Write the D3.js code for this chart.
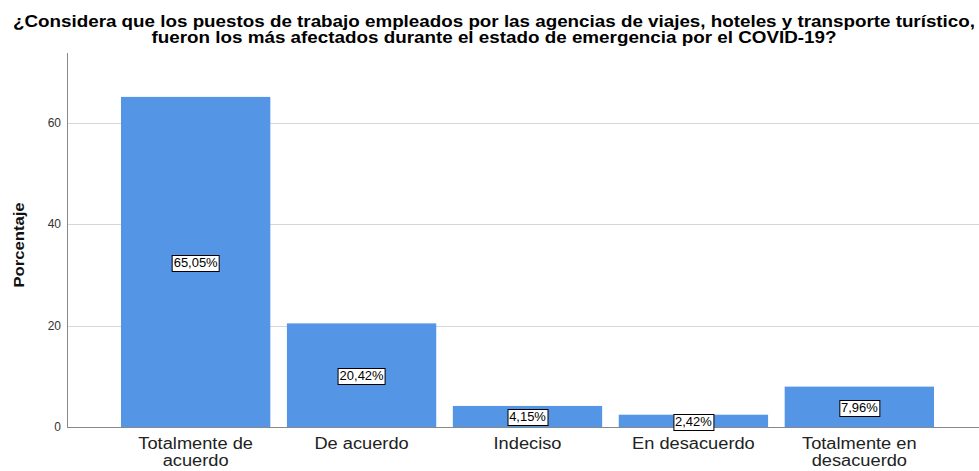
<!DOCTYPE html>
<html>
<head>
<meta charset="utf-8">
<script src="https://cdn.jsdelivr.net/npm/d3@7"></script>
<style>
  body { margin: 0; background: #fff; }
  svg { display: block; font-family: Arial, "Liberation Sans", sans-serif; }
</style>
</head>
<body>
<svg id="chart" width="979" height="471"></svg>
<script>
// ---- Data ----
const categories = [["Totalmente de", "acuerdo"], ["De acuerdo"], ["Indeciso"], ["En desacuerdo"], ["Totalmente en", "desacuerdo"]];
const values = [65.05, 20.42, 4.15, 2.42, 7.96];
const yTicks = [0, 20, 40, 60];
const titleLines = [
    "¿Considera que los puestos de trabajo empleados por las agencias de viajes, hoteles y transporte turístico,",
    "fueron los más afectados durante el estado de emergencia por el COVID-19?"
];

const svg = d3.select("#chart");
const W = 979, H = 471;
const plotLeft = 67, plotTop = 53, plotBottom = 427;

// the reference font runs a bit wider than Arial, so stretch text horizontally
function stretch(sel, k) {
    sel.each(function () {
        const len = this.getComputedTextLength();
        d3.select(this)
            .attr("textLength", len * k)
            .attr("lengthAdjust", "spacingAndGlyphs");
    });
}

// scales
const x = d3.scaleBand()
    .domain(d3.range(values.length))
    .range([112.7, 942.3])
    .paddingInner(0.1)
    .paddingOuter(0.05);
const y = d3.scaleLinear().domain([0, 73.7]).range([plotBottom, plotTop]);

// gridlines
svg.append("g").selectAll("line")
    .data(yTicks.filter(d => d > 0))
    .join("line")
    .attr("x1", plotLeft).attr("x2", W)
    .attr("y1", d => Math.round(y(d)) + 0.5).attr("y2", d => Math.round(y(d)) + 0.5)
    .attr("stroke", "#d6d6d6").attr("stroke-width", 1);

// bars
svg.append("g").selectAll("rect")
    .data(values)
    .join("rect")
    .attr("x", (d, i) => x(i))
    .attr("width", x.bandwidth())
    .attr("y", d => y(d))
    .attr("height", d => y(0) - y(d))
    .attr("fill", "#5595e5");

// axes lines
svg.append("line")
    .attr("x1", plotLeft + 0.5).attr("x2", plotLeft + 0.5)
    .attr("y1", plotTop).attr("y2", plotBottom)
    .attr("stroke", "#888");
svg.append("line")
    .attr("x1", plotLeft).attr("x2", W)
    .attr("y1", plotBottom + 0.5).attr("y2", plotBottom + 0.5)
    .attr("stroke", "#888");

// y tick labels
svg.append("g").selectAll("text")
    .data(yTicks)
    .join("text")
    .attr("x", plotLeft - 6)
    .attr("y", d => y(d) + 4)
    .attr("text-anchor", "end")
    .attr("font-size", 12)
    .attr("fill", "#333")
    .text(d => d);

// y axis title
svg.append("text")
    .attr("transform", "translate(24,245) rotate(-90)")
    .attr("text-anchor", "middle")
    .attr("font-size", 15)
    .attr("font-weight", "bold")
    .attr("fill", "#111")
    .text("Porcentaje")
    .call(stretch, 1.11);

// category labels, one text per line
const catG = svg.append("g");
categories.forEach((lines, j) => {
    const cx = x(j) + x.bandwidth() / 2;
    lines.forEach((line, i) => {
        catG.append("text")
            .attr("text-anchor", "middle")
            .attr("font-size", 16)
            .attr("fill", "#222")
            .attr("x", cx)
            .attr("y", 449 + i * 17)
            .text(line)
            .call(stretch, 1.14);
    });
});

// value labels, boxed
const fmt = v => v.toFixed(2).replace(".", ",") + "%";
const lab = svg.append("g").selectAll("g")
    .data(values)
    .join("g")
    .attr("transform", (d, i) => `translate(${x(i) + x.bandwidth() / 2},${Math.round((y(d) + y(0)) / 2) + 1})`);
lab.append("text")
    .attr("text-anchor", "middle")
    .attr("y", 4)
    .attr("font-size", 12)
    .attr("fill", "#000")
    .text(fmt)
    .call(stretch, 1.08);
lab.insert("rect", "text")
    .each(function () {
        const box = this.nextSibling.getBBox();
        d3.select(this)
            .attr("x", Math.round(box.x - 2) + 0.5)
            .attr("y", -7.5)
            .attr("width", Math.round(box.width + 3))
            .attr("height", 16)
            .attr("fill", "#fff")
            .attr("stroke", "#000")
            .attr("stroke-width", 1);
    });

// title
const titleWidths = [962, 685];
svg.append("g").selectAll("text")
    .data(titleLines)
    .join("text")
    .attr("x", 494)
    .attr("y", (d, i) => 27 + i * 16)
    .attr("text-anchor", "middle")
    .attr("font-size", 16)
    .attr("font-weight", "bold")
    .attr("fill", "#000")
    .attr("textLength", (d, i) => titleWidths[i])
    .attr("lengthAdjust", "spacingAndGlyphs")
    .text(d => d);
</script>
</body>
</html>
